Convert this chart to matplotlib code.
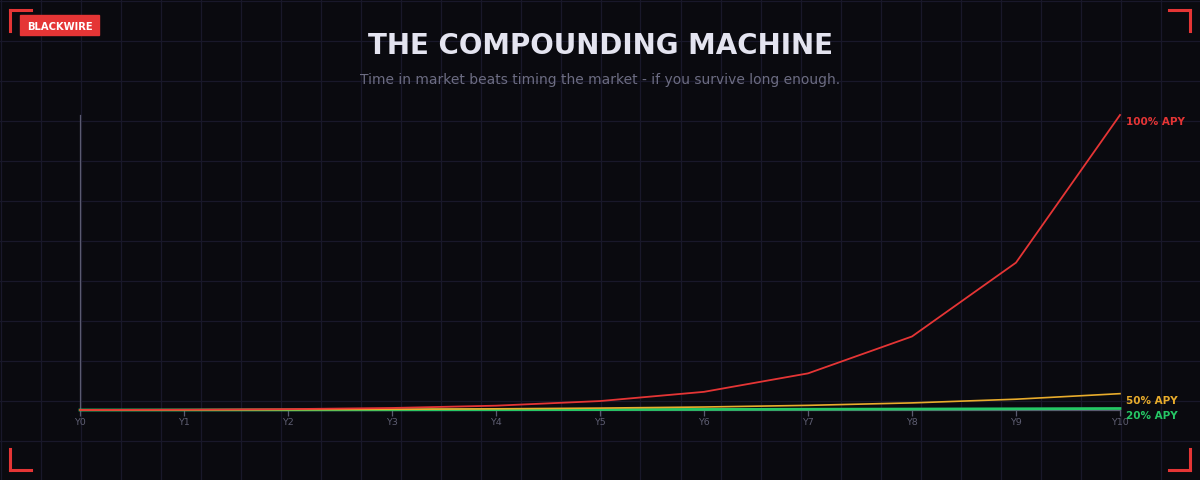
import matplotlib
matplotlib.use("Agg")
import matplotlib.pyplot as plt
from matplotlib.lines import Line2D
from matplotlib.patches import Rectangle

# ---- data ----
years = list(range(11))
year_labels = [f"Y{i}" for i in years]
apy_100 = [1, 2, 4, 8, 16, 32, 64, 128, 256, 512, 1024]
apy_50 = [1, 1.5, 2.25, 3.38, 5.06, 7.59, 11.39, 17.09, 25.63, 38.44, 57.67]
apy_20 = [1, 1.2, 1.44, 1.73, 2.07, 2.49, 2.99, 3.58, 4.30, 5.16, 6.19]
series_names = ["100% APY", "50% APY", "20% APY"]

BG = "#0a0a0f"
GRID = "#19182a"
RED = "#e53535"
YELLOW = "#e8ac2c"
GREEN = "#25c765"
AXIS = "#5a5a70"

W, H = 1200, 480
fig = plt.figure(figsize=(W / 100, H / 100), dpi=100, facecolor=BG)


def fx(px):
    return px / W


def fy(py):
    # py measured from the top
    return 1 - py / H


# ---- background grid, every 40 px across the whole figure ----
for gx in range(0, W + 1, 40):
    fig.add_artist(Line2D([fx(gx + 0.5)] * 2, [0, 1], color=GRID, lw=0.9, zorder=0))
for gy in range(0, H + 1, 40):
    fig.add_artist(Line2D([0, 1], [fy(gy + 0.5)] * 2, color=GRID, lw=0.9, zorder=0))

# ---- main axes ----
ax = fig.add_axes([fx(80), fy(410), fx(1120) - fx(80), fy(115) - fy(410)])
ax.set_facecolor("none")
ax.set_xlim(0, 10)
ax.set_ylim(1, 1024)

ax.plot(years, apy_20, color=GREEN, lw=2.0, zorder=3, clip_on=False)
ax.plot(years, apy_50, color=YELLOW, lw=1.2, zorder=4, clip_on=False)
ax.plot(years, apy_100, color=RED, lw=1.3, zorder=5, clip_on=False)

for name, vals, col in zip(series_names, [apy_100, apy_50, apy_20], [RED, YELLOW, GREEN]):
    ax.annotate(name, (years[-1], vals[-1]), xytext=(6, -7), textcoords="offset pixels",
                color=col, fontsize=7.5, fontweight="bold", va="center", ha="left",
                annotation_clip=False)

for s in ["top", "right"]:
    ax.spines[s].set_visible(False)
ax.spines["left"].set_color(AXIS)
ax.spines["bottom"].set_color(AXIS)
ax.spines["left"].set_linewidth(0.9)
ax.spines["bottom"].set_linewidth(0.9)
ax.spines["bottom"].set_zorder(1)

ax.set_xticks(years)
ax.set_xticklabels(year_labels)
ax.set_yticks([])
ax.tick_params(axis="x", colors=AXIS, labelcolor="#5e5e72", labelsize=6.8,
               length=4, width=0.9, pad=2)

# ---- titles ----
fig.text(0.5, fy(46), "THE COMPOUNDING MACHINE", ha="center", va="center",
         color="#e4e4f0", fontsize=20, fontweight="bold")
fig.text(0.5, fy(80), "Time in market beats timing the market - if you survive long enough.",
         ha="center", va="center", color="#6c6c82", fontsize=10)

# ---- badge ----
fig.add_artist(Rectangle((fx(20), fy(35)), fx(79), fy(15) - fy(35), color=RED,
                         transform=fig.transFigure, zorder=5))
fig.text(fx(59.5), fy(27), "BLACKWIRE", ha="center", va="center", color="white",
         fontsize=7.2, fontweight="bold", zorder=6)

# ---- corner brackets ----
L = 21
corners = [(10, 10, 1, 1), (1190, 10, -1, 1), (10, 470, 1, -1), (1190, 470, -1, -1)]
for cx, cy, dx, dy in corners:
    fig.add_artist(Line2D([fx(cx), fx(cx + dx * L)], [fy(cy), fy(cy)], color=RED,
                          lw=2.2, solid_capstyle="projecting", zorder=5))
    fig.add_artist(Line2D([fx(cx), fx(cx)], [fy(cy), fy(cy + dy * L)], color=RED,
                          lw=2.2, solid_capstyle="projecting", zorder=5))

fig.savefig("out.png", dpi=100, facecolor=BG)
